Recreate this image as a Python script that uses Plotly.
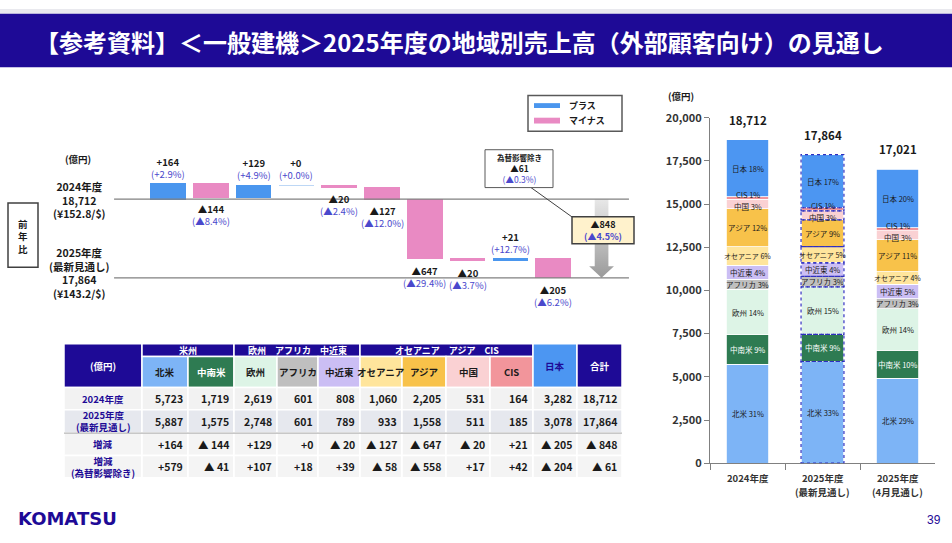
import plotly.graph_objects as go

W, H = 952, 543
FONT = 'Noto Sans CJK JP'
NAVY = '#1E0A96'
PCT_COL = '#4A48CC'

# ---- data (億円) ----
regions = ['北米', '中南米', '欧州', 'アフリカ', '中近東', 'オセアニア', 'アジア', '中国', 'CIS', '日本']
sales_2024 = [5723, 1719, 2619, 601, 808, 1060, 2205, 531, 164, 3282]
sales_2025 = [5887, 1575, 2748, 601, 789, 933, 1558, 511, 185, 3078]
sales_2025_apr = [4910, 1640, 2400, 580, 820, 720, 1870, 510, 190, 3381]
totals = [18712, 17864, 17021]
diff = [164, -144, 129, 0, -20, -127, -647, -20, 21, -205]
diff_pct = ['+2.9%', '▲8.4%', '+4.9%', '+0.0%', '▲2.4%', '▲12.0%', '▲29.4%', '▲3.7%', '+12.7%', '▲6.2%']
diff_ex_fx = [579, -41, 107, 18, 39, -58, -558, 17, 42, -204]
total_diff = -848
total_diff_pct = '▲4.5%'
total_diff_ex_fx = -61
total_diff_ex_fx_pct = '▲0.3%'
fx_rates = ['¥152.8/$', '¥143.2/$']
bar_labels = ['2024年度', '2025年度<br>(最新見通し)', '2025年度<br>(4月見通し)']
region_groups = [('米州', 1, 3), ('欧州　アフリカ　中近東', 3, 6), ('オセアニア　アジア　CIS', 6, 10)]

region_colors = ['#7DB4F6', '#2E7B52', '#DDF4E6', '#BFBFBF', '#CBBEF4',
                 '#FFE59C', '#F8C24A', '#FAD1D3', '#F2959B', '#4C96F2']
plus_col, minus_col = '#4A96EE', '#E98AC3'


def px(x):
    return x / W


def py(y):
    return 1 - y / H


def fmt_diff(v, space=' '):
    return f'+{v:,}' if v >= 0 else f'▲{space}{abs(v):,}'


fig = go.Figure()
shapes = []
ann = []


def text(x, y, s, size=10, color='#1a1a1a', xanchor='center', yanchor='middle', **kw):
    ann.append(dict(x=px(x), y=py(y), xref='paper', yref='paper', text=s, showarrow=False,
                    font=dict(size=size, color=color, family=FONT),
                    xanchor=xanchor, yanchor=yanchor, **kw))


def rect(x0, y0, x1, y1, fill, line_col='white', lw=1.5):
    shapes.append(dict(type='rect', xref='paper', yref='paper', x0=px(x0), x1=px(x1),
                       y0=py(y1), y1=py(y0), fillcolor=fill, line=dict(color=line_col, width=lw)))


# ---- title bar ----
rect(0, 0, W, 5, '#E9E9EE', line_col='#E9E9EE', lw=0)
rect(0, 5, W, 60, NAVY, line_col=NAVY, lw=0)
text(33, 33, '<b>【参考資料】＜一般建機＞2025年度の地域別売上高（外部顧客向け）の見通し</b>',
     size=24, color='white', xanchor='left')

# ---- waterfall ----
bases = []
level = totals[0]
for d in diff:
    bases.append(level)
    level += d
fill_cols = [plus_col if d >= 0 else minus_col for d in diff]
line_cols = ['#BDD7F5' if d == 0 else c for d, c in zip(diff, fill_cols)]
fig.add_trace(go.Bar(x=list(range(len(diff))), y=diff, base=bases, width=0.81,
                     marker=dict(color=fill_cols, line=dict(color=line_cols, width=1)),
                     xaxis='x', yaxis='y', hoverinfo='skip', showlegend=False))

for i, d in enumerate(diff):
    end = bases[i] + d
    s = f'<b>{fmt_diff(d, "")}</b><br><span style="color:{PCT_COL}">({diff_pct[i]})</span>'
    ann.append(dict(x=i, y=end, xref='x', yref='y', text=s, showarrow=False,
                    font=dict(size=9.5, color='#1a1a1a', family=FONT),
                    yanchor='bottom' if d >= 0 else 'top', yshift=1 if d >= 0 else -3))

for t in totals[:2]:
    shapes.append(dict(type='line', xref='x', yref='y', x0=-1.26, x1=10.77, y0=t, y1=t,
                       line=dict(color='#808080', width=1.2)))

# gray arrow for total change
cx = 10.13
top, tip = totals[0], totals[1]
head = tip + 126
fig.add_trace(go.Scatter(
    x=[cx - 0.16, cx + 0.16, cx + 0.16, cx + 0.29, cx, cx - 0.29, cx - 0.16, cx - 0.16],
    y=[top, top, head, head, tip, head, head, top],
    mode='lines', fill='toself', line=dict(width=0),
    fillgradient=dict(type='vertical', colorscale=[[0, '#9a9a9a'], [1, '#e8e8e8']]),
    xaxis='x', yaxis='y', hoverinfo='skip', showlegend=False))

# left labels
text(78, 155, '<b>(億円)</b>', size=9.5)
text(79, 197, f'<b>2024年度<br>{totals[0]:,}<br>({fx_rates[0]})</b>', size=10.5)
text(79, 272, f'<b>2025年度<br>(最新見通し)<br>{totals[1]:,}<br>({fx_rates[1]})</b>', size=10.5)
rect(8, 200, 38, 266, 'white', line_col='#404040', lw=1.5)
text(23, 234, '<b>前<br>年<br>比</b>', size=9.5)

# legend box
rect(528, 89, 622, 126, 'white', line_col='#595959', lw=1.5)
rect(534, 97, 560, 102, plus_col, line_col=plus_col, lw=0)
rect(534, 112, 560, 118, minus_col, line_col=minus_col, lw=0)
text(567, 99, '<b>プラス</b>', size=9, xanchor='left')
text(567, 115, '<b>マイナス</b>', size=9, xanchor='left')

# callout (fx excluded)
shapes.append(dict(type='line', xref='paper', yref='paper', x0=px(531), y0=py(184), x1=px(573), y1=py(215),
                   line=dict(color='#404040', width=1)))
rect(485, 145, 553, 184, 'white', line_col='#595959', lw=1)
text(519, 164.5, f'<span style="font-size:7.5px"><b>為替影響除き</b></span><br><b>{fmt_diff(total_diff_ex_fx, "")}</b>'
     f'<br><span style="color:{PCT_COL}">({total_diff_ex_fx_pct})</span>', size=8.5)
rect(572, 214, 634, 242, '#FFF2CC', line_col='#404040', lw=1.5)
text(603, 228, f'<b>{fmt_diff(total_diff, "")}<br><span style="color:{PCT_COL}">({total_diff_pct})</span></b>',
     size=9)

# ---- table ----
col_x = [64, 142, 188, 234, 277, 318, 360, 402, 446, 490, 533, 577, 622]
row_y = [345, 358, 390, 413, 437, 460, 483]
rect(col_x[0], row_y[0], col_x[1], row_y[2], NAVY)
text((col_x[0] + col_x[1]) / 2, (row_y[0] + row_y[2]) / 2, '<b>(億円)</b>', size=9.5, color='white')
for name, c0, c1 in region_groups:
    rect(col_x[c0], row_y[0], col_x[c1], row_y[1], NAVY)
    text((col_x[c0] + col_x[c1]) / 2, (row_y[0] + row_y[1]) / 2 + 0.5, f'<b>{name}</b>', size=9, color='white')
for j in range(9):
    rect(col_x[j + 1], row_y[1], col_x[j + 2], row_y[2], region_colors[j])
    tc = 'white' if j == 1 else '#1a1a1a'
    text((col_x[j + 1] + col_x[j + 2]) / 2, (row_y[1] + row_y[2]) / 2, f'<b>{regions[j]}</b>', size=9.5, color=tc)
rect(col_x[10], row_y[0], col_x[11], row_y[2], region_colors[9])
text((col_x[10] + col_x[11]) / 2, (row_y[0] + row_y[2]) / 2, f'<b>{regions[9]}</b>', size=9.5, color=NAVY)
rect(col_x[11], row_y[0], col_x[12], row_y[2], NAVY)
text((col_x[11] + col_x[12]) / 2, (row_y[0] + row_y[2]) / 2, '<b>合計</b>', size=9.5, color='white')

row_names = ['2024年度', '2025年度<br>(最新見通し)', '増減', '増減<br>(為替影響除き)']
row_bg = ['#F2F2F2', '#E6E8EE', '#F4F4F4', '#F4F4F4']
rows = [[f'{v:,}' for v in sales_2024 + [totals[0]]],
        [f'{v:,}' for v in sales_2025 + [totals[1]]],
        [fmt_diff(v) for v in diff + [total_diff]],
        [fmt_diff(v) for v in diff_ex_fx + [total_diff_ex_fx]]]
for r in range(4):
    y0, y1 = row_y[r + 2], row_y[r + 3]
    rect(col_x[0], y0, col_x[1], y1, row_bg[r])
    text((col_x[0] + col_x[1]) / 2, (y0 + y1) / 2, f'<b>{row_names[r]}</b>', size=9.5, color=NAVY)
    for c in range(11):
        rect(col_x[c + 1], y0, col_x[c + 2], y1, row_bg[r])
        text(col_x[c + 2] - 3, (y0 + y1) / 2, f'<b>{rows[r][c]}</b>', size=10.5, xanchor='right')
shapes.append(dict(type='line', xref='paper', yref='paper', x0=px(col_x[0]), x1=px(col_x[-1]),
                   y0=py(row_y[4]), y1=py(row_y[4]), line=dict(color='#A6A6A6', width=1)))

# ---- stacked bars by region ----
cats = [b.replace('<br>', ' ') for b in bar_labels]
series = [sales_2024, sales_2025, sales_2025_apr]
for j, reg in enumerate(regions):
    vals = [s[j] for s in series]
    fig.add_trace(go.Bar(
        x=cats, y=vals,
        marker=dict(color=region_colors[j], line=dict(color='white', width=0.8)),
        xaxis='x2', yaxis='y2', hoverinfo='skip', showlegend=False))

# segment labels (CIS / 中国 pushed apart a little, as on the slide)
nudge = {'CIS': 4, '中国': -2}
for k, (c, s, t) in enumerate(zip(cats, series, totals)):
    cum = 0
    for j, v in enumerate(s):
        lab = f'{regions[j]} {int(v / t * 100 + 0.5)}%'
        ann.append(dict(x=c, y=cum + v / 2, xref='x2', yref='y2', text=lab, showarrow=False,
                        yshift=nudge.get(regions[j], 0), borderpad=0,
                        font=dict(size=7 if regions[j] == 'オセアニア' else 7.5,
                                  color='white' if j == 1 else '#1a1a1a', family=FONT)))
        cum += v

# dotted outline on latest forecast segments
cum = 0
for v in sales_2025:
    shapes.append(dict(type='rect', xref='x2', yref='y2', x0=1 - 0.286, x1=1 + 0.286, y0=cum, y1=cum + v,
                       line=dict(color='#2F2FC0', width=1.2, dash='dot')))
    cum += v

for c, b, t in zip(cats, bar_labels, totals):
    ann.append(dict(x=c, y=t, xref='x2', yref='y2', text=f'<b>{t:,}</b>', showarrow=False, yshift=20,
                    font=dict(size=11.5, color='#1a1a1a', family=FONT)))
    # category label under the axis, one annotation per line
    for n, line in enumerate(b.split('<br>')):
        ann.append(dict(x=c, y=0, xref='x2', yref='y2', text=f'<b>{line}</b>', showarrow=False,
                        yshift=-15 - 14 * n, borderpad=0,
                        font=dict(size=9.5, color='#333', family=FONT)))
text(681, 90, '<b>(億円)</b>', size=9.5)

# ---- footer ----
text(16, 525, '<b>KOMATSU</b>', size=18, color=NAVY, xanchor='left')
ann[-1]['font']['family'] = 'DejaVu Sans'
text(943, 526, '39', size=12, color=NAVY, xanchor='right')
ann[-1]['font']['family'] = 'Liberation Sans'

yticks = list(range(0, 20001, 2500))
fig.update_layout(
    width=W, height=H, margin=dict(l=0, r=0, t=0, b=0),
    paper_bgcolor='white', plot_bgcolor='rgba(0,0,0,0)',
    font=dict(family=FONT, color='#1a1a1a'),
    barmode='stack', bargap=0.427,
    xaxis=dict(domain=[px(100), px(640)], range=[-1.589, 11.028], visible=False),
    yaxis=dict(domain=[py(300), py(140)], range=[17623, 19298], visible=False),
    xaxis2=dict(domain=[px(710), px(935)], range=[-0.5, 2.5], type='category', anchor='y2',
                tickson='boundaries', ticks='outside', ticklen=6, tickcolor='#808080',
                showticklabels=False, showline=True, linecolor='#808080'),
    yaxis2=dict(domain=[py(468), py(112)], range=[0, 20000], anchor='x2',
                tickvals=yticks, ticktext=[f'<b>{v:,}</b>' for v in yticks],
                ticks='outside', ticklen=5, tickcolor='#808080', showline=True, linecolor='#808080',
                showgrid=False, zeroline=False, tickfont=dict(size=11, color='#333')),
    shapes=shapes, annotations=ann,
)

fig.write_html('out.html', config={'displayModeBar': False},
               post_script="document.body.style.margin='0px';document.body.style.overflow='hidden';")
